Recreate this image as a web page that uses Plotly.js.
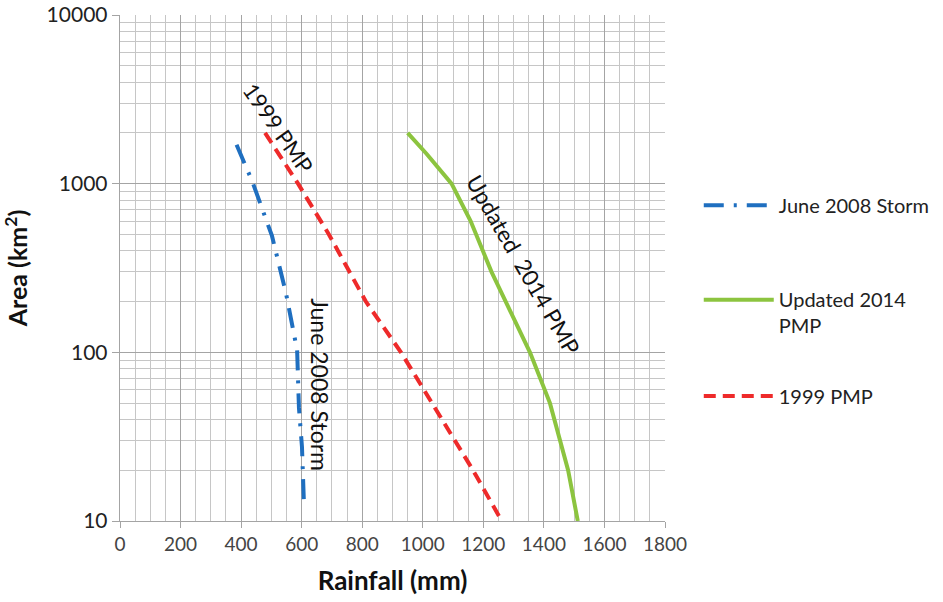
<!DOCTYPE html>
<html>
<head>
<meta charset="utf-8">
<script src="https://cdn.plot.ly/plotly-3.0.1.min.js"></script>
<style>html,body{margin:0;padding:0;background:#fff;}#chart{width:943px;height:602px;}</style>
</head>
<body>
<div id="chart"></div>
<script>
// Series: rainfall (mm) vs area (km²)
const stormName = "June 2008 Storm";
const stormRain = [385, 437, 502, 548, 585, 591, 601, 608];
const stormArea = [1700, 1030, 490, 225, 103, 47, 27.5, 12];

const updName = "Updated 2014<br>PMP";
const updRain = [950, 1013, 1095, 1158, 1227, 1354, 1420, 1480, 1512];
const updArea = [2000, 1500, 1000, 600, 300, 100, 50, 20, 10];

const oldName = "1999 PMP";
const oldRain = [479, 588, 690, 812, 928, 1029, 1166, 1261];
const oldArea = [2000, 1000, 500, 200, 100, 50, 20, 10];

const xTicks = [0, 200, 400, 600, 800, 1000, 1200, 1400, 1600, 1800];
const yTicks = [10, 100, 1000, 10000];

const FONT = "Lato, 'Open Sans', sans-serif";

const traces = [
  {x: stormRain, y: stormArea, name: stormName, mode: "lines", legend: "legend",
   line: {color: "#1f6fc0", width: 4, dash: "20px,10px,3px,10px"}},
  {x: updRain, y: updArea, name: updName, mode: "lines", legend: "legend2",
   line: {color: "#8cc43f", width: 4}},
  {x: oldRain, y: oldArea, name: oldName, mode: "lines", legend: "legend3",
   line: {color: "#ee2a2a", width: 4, dash: "12px,7px"}}
];

const legBase = {xref: "container", x: 0.741, xanchor: "left", itemwidth: 70, valign: "top",
  bgcolor: "rgba(0,0,0,0)", borderwidth: 0, font: {family: FONT, size: 20, color: "#222"}};

const layout = {
  width: 943, height: 602,
  margin: {l: 120, r: 278, t: 15, b: 81},
  paper_bgcolor: "#fff", plot_bgcolor: "#fff",
  font: {family: FONT, size: 19, color: "#222"},
  showlegend: true,
  legend: Object.assign({}, legBase, {y: 0.624, yanchor: "middle"}),
  legend2: Object.assign({}, legBase, {y: 0.476, yanchor: "top"}),
  legend3: Object.assign({}, legBase, {y: 0.247, yanchor: "middle"}),
  xaxis: {
    range: [0, 1800], tickvals: xTicks, ticktext: xTicks.map(String),
    showgrid: true, gridcolor: "#a4a4a4", gridwidth: 1,
    minor: {dtick: 50, showgrid: true, gridcolor: "#c6c6c6", gridwidth: 1},
    ticks: "outside", ticklen: 6, tickcolor: "#a4a4a4",
    showline: true, linecolor: "#a4a4a4", linewidth: 1.3,
    zeroline: false, automargin: false,
    tickfont: {family: FONT, size: 19, color: "#444"},
    title: {text: "<b>Rainfall (mm)</b>", font: {family: FONT, size: 26, color: "#111"}, standoff: 17}
  },
  yaxis: {
    type: "log", range: [1, 4], tickvals: yTicks, ticktext: yTicks.map(String),
    showgrid: true, gridcolor: "#a4a4a4", gridwidth: 1,
    minor: {dtick: "D1", showgrid: true, gridcolor: "#c6c6c6", gridwidth: 1},
    ticks: "outside", ticklen: 7, tickcolor: "#a4a4a4",
    showline: true, linecolor: "#a4a4a4", linewidth: 1.3,
    zeroline: false, automargin: false,
    tickfont: {family: FONT, size: 21, color: "#222"},
    title: {text: "<b>Area (km<sup>2</sup>)</b>", font: {family: FONT, size: 25, color: "#111"}, standoff: 20}
  },
  annotations: [
    {x: 525, y: 3.33, xref: "x", yref: "y", text: "1999 PMP", showarrow: false,
     textangle: 55, font: {family: FONT, size: 22, color: "#111"}},
    {x: 1331, y: 2.52, xref: "x", yref: "y", text: "Updated\u00a0\u00a02014 PMP", showarrow: false,
     textangle: 60, font: {family: FONT, size: 22.5, color: "#111"}},
    {x: 658, y: 1.81, xref: "x", yref: "y", text: "June 2008 Storm", showarrow: false,
     textangle: 90, font: {family: FONT, size: 23, color: "#111"}}
  ]
};

Plotly.newPlot("chart", traces, layout, {displayModeBar: false, staticPlot: true});
</script>
</body>
</html>
